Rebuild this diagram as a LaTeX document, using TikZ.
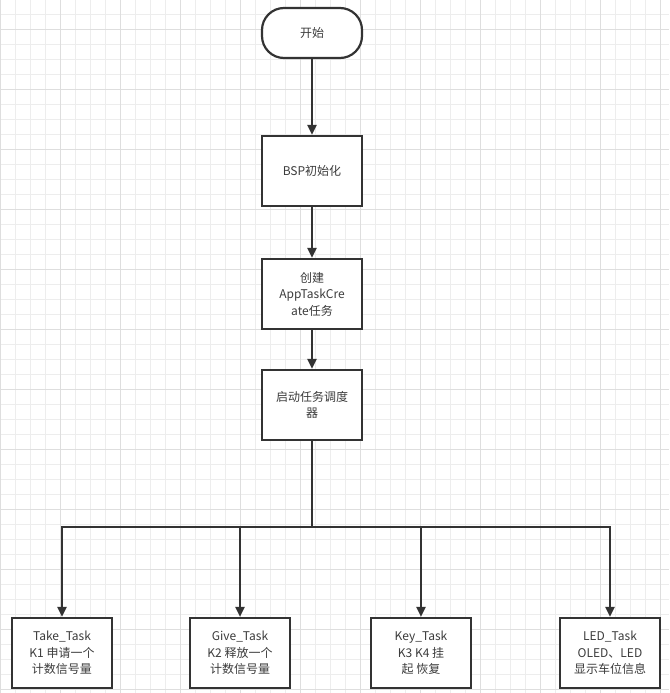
\documentclass[tikz,border=0pt]{standalone}
\usepackage{fontspec}
\setmainfont{Noto Sans CJK SC}
\usetikzlibrary{arrows.meta}
\definecolor{gridlight}{HTML}{EDEDED}
\definecolor{griddark}{HTML}{DEDEDE}
\definecolor{ink}{HTML}{333333}
\definecolor{txt}{HTML}{3C3C3C}
\tikzset{
  boxstyle/.style={draw=ink, line width=2.2pt, fill=white, minimum width=100pt, minimum height=70pt, inner sep=0pt, align=center, text=txt, font=\fontsize{12pt}{16.5pt}\selectfont},
  termstyle/.style={boxstyle, minimum height=50pt, rounded corners=22pt},
  arr/.style={draw=ink, line width=2.2pt, -{Triangle[length=10pt,width=9pt]}},
  ln/.style={draw=ink, line width=2.2pt}
}
\begin{document}
\begin{tikzpicture}[x=1pt,y=-1pt]
\useasboundingbox (0,0) rectangle (669,693);
\fill[white] (0,0) rectangle (669,693);
% grid
\foreach \i in {0,...,44} {
  \draw[gridlight, line width=1pt] (\i*15,0) -- (\i*15,693);
}
\foreach \i in {0,...,46} {
  \draw[gridlight, line width=1pt] (0,\i*15-0.5) -- (669,\i*15-0.5);
}
\foreach \i in {0,...,11} {
  \draw[griddark, line width=1pt] (\i*60,0) -- (\i*60,693);
  \draw[griddark, line width=1pt] (0,\i*60+29.5) -- (669,\i*60+29.5);
}
% nodes
\node[termstyle] (start) at (312,33) {开始};
\node[boxstyle] (bsp) at (312,171) {BSP初始化};
\node[boxstyle] (create) at (312,294) {创建\\AppTaskCre\\ate任务};
\node[boxstyle] (sched) at (312,405) {启动任务调度\\器};
\node[boxstyle] (take) at (62,653) {Take\_Task\\K1 申请一个\\计数信号量};
\node[boxstyle] (give) at (240,653) {Give\_Task\\K2 释放一个\\计数信号量};
\node[boxstyle] (key) at (421,653) {Key\_Task\\K3 K4 挂\\起 恢复};
\node[boxstyle] (led) at (610,653) {LED\_Task\\OLED、LED\\显示车位信息};
\coordinate (junc) at (312,527);
% connectors
\draw[arr] (start) -- (bsp);
\draw[arr] (bsp) -- (create);
\draw[arr] (create) -- (sched);
\draw[ln] (sched) -- (junc);
\draw[arr] (junc) -| (take);
\draw[arr] (junc) -| (give);
\draw[arr] (junc) -| (key);
\draw[arr] (junc) -| (led);
\end{tikzpicture}
\end{document}
